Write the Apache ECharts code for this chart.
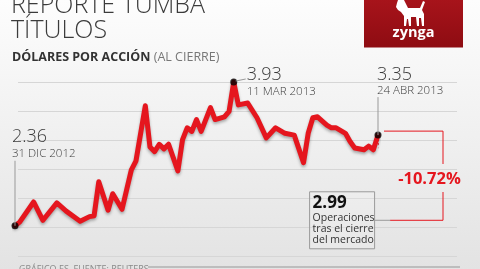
<!DOCTYPE html>
<html><head><meta charset="utf-8">
<script src="https://cdn.jsdelivr.net/npm/echarts@6/dist/echarts.min.js"></script>
<style>html,body{margin:0;padding:0;background:#fff;}#c{width:480px;height:269px;}</style>
</head><body><div id="c"></div>
<script>
// ---- data ----
const firstDay = '2012-12-31';
const lastDay = '2013-04-24';
const holidays = ['2013-01-01', '2013-01-21', '2013-02-18', '2013-03-29'];
const readDates = [
  '2012-12-31','2013-01-02','2013-01-07','2013-01-09','2013-01-14','2013-01-16','2013-01-22','2013-01-24','2013-01-25','2013-01-28',
  '2013-01-30','2013-01-31','2013-02-04','2013-02-06','2013-02-07','2013-02-11','2013-02-12','2013-02-13','2013-02-14','2013-02-15',
  '2013-02-19','2013-02-21','2013-02-22','2013-02-25','2013-02-26','2013-02-27','2013-02-28','2013-03-04','2013-03-05','2013-03-07',
  '2013-03-08','2013-03-11','2013-03-12','2013-03-14','2013-03-18','2013-03-20','2013-03-22','2013-03-26','2013-03-28','2013-04-02',
  '2013-04-03','2013-04-04','2013-04-05','2013-04-09','2013-04-10','2013-04-11','2013-04-15','2013-04-16','2013-04-17','2013-04-19',
  '2013-04-22','2013-04-23','2013-04-24'
];
const readPrices = [
  2.36,2.40,2.62,2.42,2.61,2.52,2.41,2.46,2.47,2.84,
  2.53,2.71,2.54,2.97,3.07,3.67,3.22,3.17,3.25,3.20,
  3.25,2.96,3.30,3.43,3.39,3.52,3.39,3.65,3.52,3.55,
  3.61,3.93,3.68,3.70,3.54,3.32,3.43,3.37,3.35,3.05,
  3.37,3.54,3.55,3.46,3.43,3.43,3.37,3.28,3.21,3.19,
  3.23,3.19,3.35
];
const keyDates = ['2012-12-31', '2013-03-11', '2013-04-24'];
const keyValueLabels = ['2.36', '3.93', '3.35'];
const keyDateLabels = ['31 DIC 2012', '11 MAR 2013', '24 ABR 2013'];
const afterHoursLabel = '2.99';
const afterHoursNote = ['Operaciones', 'tras el cierre', 'del mercado'];
const afterHoursSpot = [80.6, 2.42]; // schematic placement used in the original graphic
const changeLabel = '-10.72%';
const titleLines = ['REPORTE TUMBA', 'TÍTULOS'];
const subtitleBold = 'DÓLARES POR ACCIÓN';
const subtitleLight = '(AL CIERRE)';
const sourceText = 'GRÁFICO ES, FUENTE: REUTERS';

// ---- build ----
function tradingDays() {
  const out = [];
  const d = new Date(firstDay + 'T00:00:00Z');
  const end = new Date(lastDay + 'T00:00:00Z');
  while (d <= end) {
    const wd = d.getUTCDay();
    const s = d.toISOString().slice(0, 10);
    if (wd !== 0 && wd !== 6 && !holidays.includes(s)) out.push(s);
    d.setUTCDate(d.getUTCDate() + 1);
  }
  return out;
}
const days = tradingDays();
const lineData = readDates.map((d, i) => [days.indexOf(d), readPrices[i]]);
const keyData = keyDates.map(d => [days.indexOf(d), readPrices[readDates.indexOf(d)]]);
const endPt = keyData[2];

const RED = '#e5161e';
const chart = echarts.init(document.getElementById('c'), null, {renderer: 'canvas'});
const hidden = {show: false};
chart.setOption({
  animation: false,
  backgroundColor: {type: 'linear', x: 0, y: 0, x2: 0, y2: 1,
    colorStops: [{offset: 0, color: '#fdfdfd'}, {offset: 1, color: '#e3e3e3'}]},
  grid: [
    {left: 18, right: 23, top: 82, bottom: 13},
    {left: 15, right: 102, top: 82, bottom: 13}
  ],
  xAxis: [
    {gridIndex: 0, type: 'value', min: 0, max: 1, axisLabel: hidden, axisLine: hidden, axisTick: hidden, splitLine: hidden},
    {gridIndex: 1, type: 'value', min: 0, max: days.length - 1, axisLabel: hidden, axisLine: hidden, axisTick: hidden, splitLine: hidden}
  ],
  yAxis: [
    {gridIndex: 0, type: 'value', min: 0, max: 6, interval: 1, axisLabel: hidden, axisLine: hidden, axisTick: hidden,
      splitLine: {show: true, lineStyle: {color: '#d6d6d6', width: 1}}},
    {gridIndex: 1, type: 'value', min: 2.03, max: 3.93, axisLabel: hidden, axisLine: hidden, axisTick: hidden, splitLine: hidden}
  ],
  series: [
    {type: 'line', xAxisIndex: 1, yAxisIndex: 1, data: [endPt, afterHoursSpot], showSymbol: false, clip: false,
      lineStyle: {color: RED, width: 2, type: [2, 2]}, z: 2},
    {type: 'line', xAxisIndex: 1, yAxisIndex: 1, data: lineData, showSymbol: false, clip: false, smooth: false,
      lineStyle: {color: RED, width: 5, join: 'round', cap: 'round',
        shadowColor: 'rgba(0,0,0,0.3)', shadowBlur: 3, shadowOffsetY: 2}, z: 3},
    {type: 'scatter', xAxisIndex: 1, yAxisIndex: 1, data: keyData.concat([afterHoursSpot]), symbolSize: 7,
      itemStyle: {color: '#000'}, z: 5}
  ]
});

// ---- annotations anchored to data points ----
const px = p => chart.convertToPixel({xAxisIndex: 1, yAxisIndex: 1}, p);
const [s, pk, e] = keyData.map(px);
const ah = px(afterHoursSpot);
const LIGHT = '300 ';
const gray = '#3b3b3b';
const g = [];
const txt = (x, y, text, font, fill, align, extra) => g.push(Object.assign({type: 'text', x, y, z: 10,
  style: {text, font, fill, align: align || 'left', verticalAlign: 'middle'}}, extra || {}));
const ln = (x1, y1, x2, y2, stroke, w, dash) => g.push({type: 'line', z: 8,
  shape: {x1, y1, x2, y2}, style: {stroke, lineWidth: w || 1, lineDash: dash || null}});

// title
txt(11, 6, titleLines[0], LIGHT + '25px "Open Sans"', gray);
txt(11, 31, titleLines[1], LIGHT + '25px "Open Sans"', gray);
g.push({type: 'text', x: 12, y: 57, z: 10, style: {
  text: '{b|' + subtitleBold + '} {n|' + subtitleLight + '}', verticalAlign: 'middle',
  rich: {b: {font: 'bold 12.5px "Open Sans"', fill: '#333'}, n: {font: '12.5px "Open Sans"', fill: '#777'}}}});

// logo
g.push({type: 'rect', z: 9, shape: {x: 364, y: -2, width: 99, height: 49.5},
  style: {fill: {type: 'linear', x: 0, y: 0, x2: 0, y2: 1, colorStops: [{offset: 0, color: '#a8141b'}, {offset: 1, color: '#8e0c12'}]}}});
g.push({type: 'polygon', z: 10, shape: {points: [
  [398,0],[404,0],[406,4],[408,8],[420,8],[423,1],[425,2],[422,10],[424,14],[424,26],[422,26],[421,18],[419,18],[419,26],[417,26],[416,17],
  [411,17],[411,26],[409,26],[408,19],[407,19],[406,26],[404,26],[404,16],[401,12],[398,10],[396,7],[397,3]]},
  style: {fill: '#fff'}});
txt(413.5, 33, 'zynga', 'bold 14.5px "Open Sans"', '#fff', 'center');

// start label
ln(s[0], s[1] - 65, s[0], s[1], '#999', 1);
txt(s[0] - 3, s[1] - 89, keyValueLabels[0], LIGHT + '18px "Open Sans"', gray);
txt(s[0] - 3, s[1] - 72.5, keyDateLabels[0], LIGHT + '11.5px "Open Sans"', gray);
// peak label
ln(pk[0] + 2, pk[1] - 1, pk[0] + 12, pk[1] - 3, '#999', 1);
txt(pk[0] + 13, pk[1] - 7, keyValueLabels[1], LIGHT + '18px "Open Sans"', gray);
txt(pk[0] + 13, pk[1] + 9.5, keyDateLabels[1], LIGHT + '11.5px "Open Sans"', gray);
// end label
ln(e[0], e[1] - 38, e[0], e[1], '#999', 1);
txt(e[0] - 1, e[1] - 60, keyValueLabels[2], LIGHT + '18px "Open Sans"', gray);
txt(e[0] - 1, e[1] - 44, keyDateLabels[2], LIGHT + '11.5px "Open Sans"', gray);

// red bracket
const bx = 443;
ln(e[0] + 6, e[1] - 4, bx, e[1] - 4, RED, 1);
ln(bx, e[1] - 4, bx, 164, RED, 1);
ln(bx, 192, bx, ah[1], RED, 1);
ln(bx, ah[1], ah[0], ah[1], RED, 1);
txt(429.5, 179, changeLabel, 'bold 16.5px "Open Sans"', RED, 'center');

// after-hours box
g.push({type: 'rect', z: 8, shape: {x: ah[0] - 80.5, y: ah[1] - 28.5, width: 65, height: 57},
  style: {fill: 'rgba(255,255,255,0.15)', stroke: '#9a9a9a', lineWidth: 1}});
ln(ah[0] - 15.5, ah[1], ah[0], ah[1], '#9a9a9a', 1);
txt(ah[0] - 77.5, ah[1] - 17.5, afterHoursLabel, 'bold 17px "Open Sans"', '#111');
afterHoursNote.forEach((t, i) => txt(ah[0] - 77.5, ah[1] - 2 + i * 10.8, t, '10.5px "Open Sans"', '#333'));

// footer
txt(19, 269, sourceText, '9px "Open Sans"', '#8a8a8a');
ln(148, 267, 460, 267, '#bdbdbd', 2);

chart.setOption({graphic: {elements: g}});
</script></body></html>
